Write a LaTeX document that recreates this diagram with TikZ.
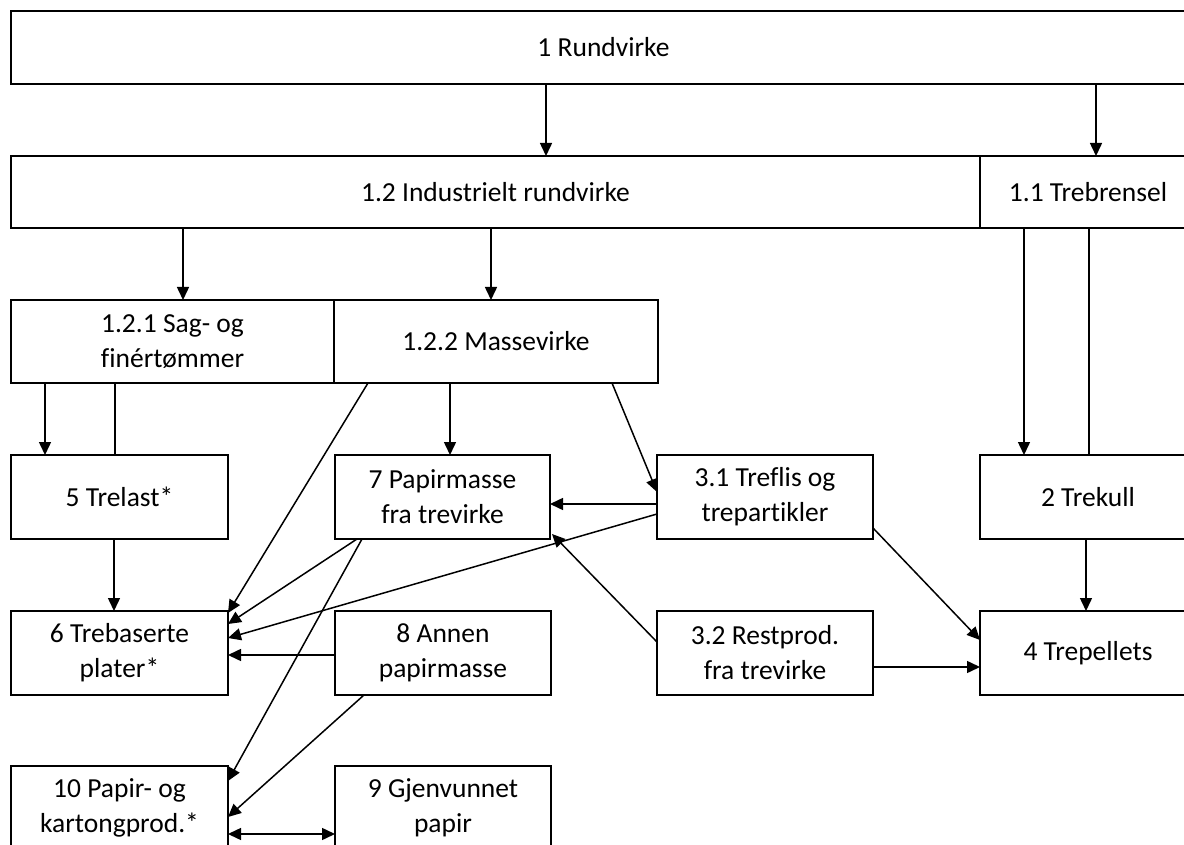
\documentclass[tikz,border=0pt]{standalone}
\usepackage{fontspec}
\setmainfont{Carlito}[Ligatures={NoCommon}]
\usetikzlibrary{arrows.meta}
\begin{document}
\begin{tikzpicture}[x=1pt,y=-1pt,
  box/.style={draw, line width=1.8pt, inner sep=0pt, outer sep=0pt, align=center, anchor=north west,
              font=\fontsize{27.5}{35}\selectfont},
  arr/.style={line width=1.5pt, -{Triangle[length=13pt,width=12pt]}},
  dbl/.style={line width=1.5pt, {Triangle[length=13pt,width=12pt]}-{Triangle[length=13pt,width=12pt]}},
  ln/.style={line width=1.5pt}]
\useasboundingbox (0,0) rectangle (1184,845);
\clip (0,0) rectangle (1184,845);
\fill[white] (0,0) rectangle (1184,845);
% row 1
\node[box, minimum width=1185pt, minimum height=73pt] (n1) at (11,11) {1 Rundvirke};
% row 2
\node[box, minimum width=969pt, minimum height=72pt] (n12) at (11,156) {1.2 Industrielt rundvirke};
\node[box, minimum width=216pt, minimum height=72pt] (n11) at (980,156) {1.1 Trebrensel};
% row 3
\node[box, minimum width=323pt, minimum height=83pt] (n121) at (11,300) {1.2.1 Sag- og\\finértømmer};
\node[box, minimum width=324pt, minimum height=83pt] (n122) at (334,300) {1.2.2 Massevirke};
% row 4
\node[box, minimum width=217pt, minimum height=84pt] (n5) at (11,455) {5 Trelast*};
\node[box, minimum width=215pt, minimum height=84pt] (n7) at (335,455) {7 Papirmasse\\fra trevirke};
\node[box, minimum width=216pt, minimum height=84pt] (n31) at (657,455) {3.1 Treflis og\\trepartikler};
\node[box, minimum width=216pt, minimum height=84pt] (n2) at (980,455) {2 Trekull};
% row 5
\node[box, minimum width=217pt, minimum height=84pt] (n6) at (11,611) {6 Trebaserte\\plater*};
\node[box, minimum width=216pt, minimum height=84pt] (n8) at (335,611) {8 Annen\\papirmasse};
\node[box, minimum width=216pt, minimum height=84pt] (n32) at (657,611) {3.2 Restprod.\\fra trevirke};
\node[box, minimum width=216pt, minimum height=84pt] (n4) at (980,611) {4 Trepellets};
% row 6
\node[box, minimum width=217pt, minimum height=84pt] (n10) at (11,766) {10 Papir- og\\kartongprod.*};
\node[box, minimum width=216pt, minimum height=84pt] (n9) at (335,766) {9 Gjenvunnet\\papir};
% connectors
\draw[arr] (n1.south -| 546,0) -- (n12.north -| 546,0);
\draw[arr] (n1.south -| 1096,0) -- (n11.north -| 1096,0);
\draw[arr] (n12.south -| 183,0) -- (n121.north -| 183,0);
\draw[arr] (n12.south -| 491,0) -- (n122.north -| 491,0);
\draw[arr] (n11.south -| 1024,0) -- (n2.north -| 1024,0);
\draw[ln] (n11.south -| 1089,0) -- (n2.north -| 1089,0);
\draw[arr] (n121.south -| 45,0) -- (n5.north -| 45,0);
\draw[ln] (n121.south -| 115,0) -- (n5.north -| 115,0);
\draw[arr] (n122.south -| 450,0) -- (n7.north -| 450,0);
\draw[arr] (n122.south -| 368,0) -- (n6.east |- 0,613);
\draw[arr] (n122.south -| 612,0) -- (n31.west |- 0,492);
\draw[arr] (n31.west |- 0,504) -- (n7.east |- 0,504);
\draw[arr] (n31.west |- 0,514) -- (n6.east |- 0,638);
\draw[arr] (n7.south -| 357,0) -- (n6.east |- 0,624);
\draw[arr] (n7.south -| 362,0) -- (n10.east |- 0,781);
\draw[arr] (n5.south -| 114,0) -- (n6.north -| 114,0);
\draw[arr] (n8.west |- 0,655) -- (n6.east |- 0,655);
\draw[arr] (n8.south -| 364,0) -- (n10.east |- 0,817);
\draw[dbl] (n10.east |- 0,834) -- (n9.west |- 0,834);
\draw[arr] (n32.west |- 0,642) -- ([shift={(2,-5)}]n7.south east);
\draw[arr] (n31.east |- 0,528) -- (n4.west |- 0,640);
\draw[arr] (n32.east |- 0,667) -- (n4.west |- 0,667);
\draw[arr] (n2.south -| 1086,0) -- (n4.north -| 1086,0);
\end{tikzpicture}
\end{document}
